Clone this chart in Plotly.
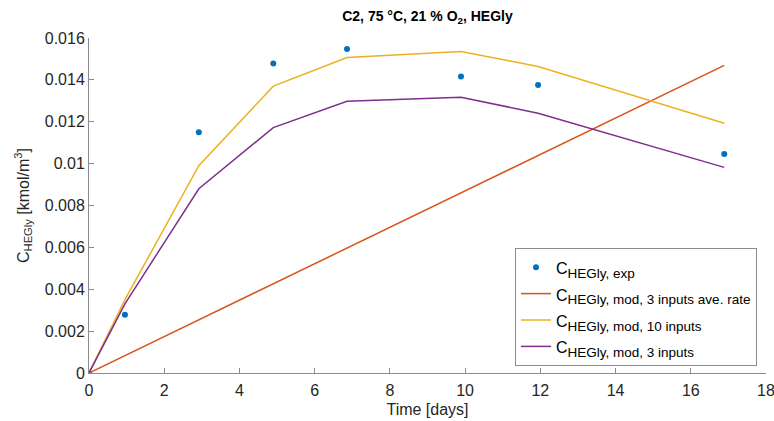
import plotly.graph_objects as go

time_days = [0, 0.955, 2.92, 4.90, 6.86, 9.89, 11.94, 16.89]
c_exp = [0, 0.00278, 0.0115, 0.01478, 0.01547, 0.01416, 0.01376, 0.01046]
c_ave_rate_t = [0, 16.89]
c_ave_rate = [0, 0.01469]
c_10_inputs = [0, 0.0035, 0.0099, 0.0137, 0.01507, 0.01536, 0.01464, 0.01193]
c_3_inputs = [0, 0.0033, 0.0088, 0.01172, 0.01298, 0.01317, 0.01241, 0.00982]

x_ticks = [0, 2, 4, 6, 8, 10, 12, 14, 16, 18]
y_ticks = [0, 0.002, 0.004, 0.006, 0.008, 0.01, 0.012, 0.014, 0.016]
y_tick_labels = ["0", "0.002", "0.004", "0.006", "0.008", "0.01", "0.012", "0.014", "0.016"]

FONT = "Liberation Sans, Arial, Helvetica, sans-serif"
AX = "#8c8c8c"
TXT = "#262626"

# body margin removed by post_script; figure slightly wider than window so
# the last tick label is cut by the window edge like the reference
W, H = 790, 421
L, R, T, B = 89, 24, 38, 48


def sub_name(s):
    return ("<span style='font-size:16px'>C</span><sub><span style='font-size:13.5px'>"
            + s + "</span></sub>")


fig = go.Figure()
fig.add_trace(go.Scatter(x=time_days, y=c_exp, mode="markers",
                         marker=dict(color="#0072BD", size=6),
                         name=sub_name("HEGly, exp")))
fig.add_trace(go.Scatter(x=c_ave_rate_t, y=c_ave_rate, mode="lines",
                         line=dict(color="#D95319", width=1.5),
                         name=sub_name("HEGly, mod, 3 inputs ave. rate")))
fig.add_trace(go.Scatter(x=time_days, y=c_10_inputs, mode="lines",
                         line=dict(color="#EDB120", width=1.5),
                         name=sub_name("HEGly, mod, 10 inputs")))
fig.add_trace(go.Scatter(x=time_days, y=c_3_inputs, mode="lines",
                         line=dict(color="#7E2F8E", width=1.5),
                         name=sub_name("HEGly, mod, 3 inputs")))

pw = W - L - R
ph = H - T - B
fig.update_layout(
    width=W, height=H,
    margin=dict(l=L, r=R, t=T, b=B, autoexpand=False),
    paper_bgcolor="white", plot_bgcolor="white",
    font=dict(family=FONT, size=16, color=TXT),
    title=dict(text="<b>C2, 75 °C, 21 % O<sub>2</sub>, HEGly</b>",
               x=(L + pw / 2) / W, xanchor="center", y=1 - 16 / H, yanchor="middle",
               font=dict(size=14, color="black")),
    showlegend=True,
    legend=dict(x=(757 - L) / pw, y=(373 - 366) / ph,
                xanchor="right", yanchor="bottom",
                bgcolor="white", bordercolor=AX, borderwidth=1,
                font=dict(size=18, color="black"), tracegroupgap=0,
                itemwidth=30),
)
fig.update_xaxes(range=[0, 18], tickvals=x_ticks, showline=True, linecolor=AX,
                 linewidth=1, ticks="inside", ticklen=5, tickcolor=AX,
                 showgrid=False, zeroline=False, mirror=False, automargin=False,
                 ticklabeloverflow="allow", ticklabelstandoff=3,
                 title=dict(text="Time [days]", font=dict(size=16), standoff=5),
                 tickfont=dict(size=16, color=TXT))
fig.update_yaxes(range=[0, 0.016], tickvals=y_ticks, ticktext=y_tick_labels,
                 showline=True, linecolor=AX, linewidth=1, ticks="inside",
                 ticklen=5, tickcolor=AX, showgrid=False, zeroline=False,
                 automargin=False, ticklabeloverflow="allow",
                 title=dict(text="C<sub>HEGly</sub> [kmol/m<sup>3</sup>]",
                            font=dict(size=16), standoff=11),
                 tickfont=dict(size=16, color=TXT))

fig.write_html(
    "out.html",
    config={"displayModeBar": False},
    post_script="document.body.style.margin='0';document.body.style.overflow='hidden';"
                "document.documentElement.style.overflow='hidden';",
)
